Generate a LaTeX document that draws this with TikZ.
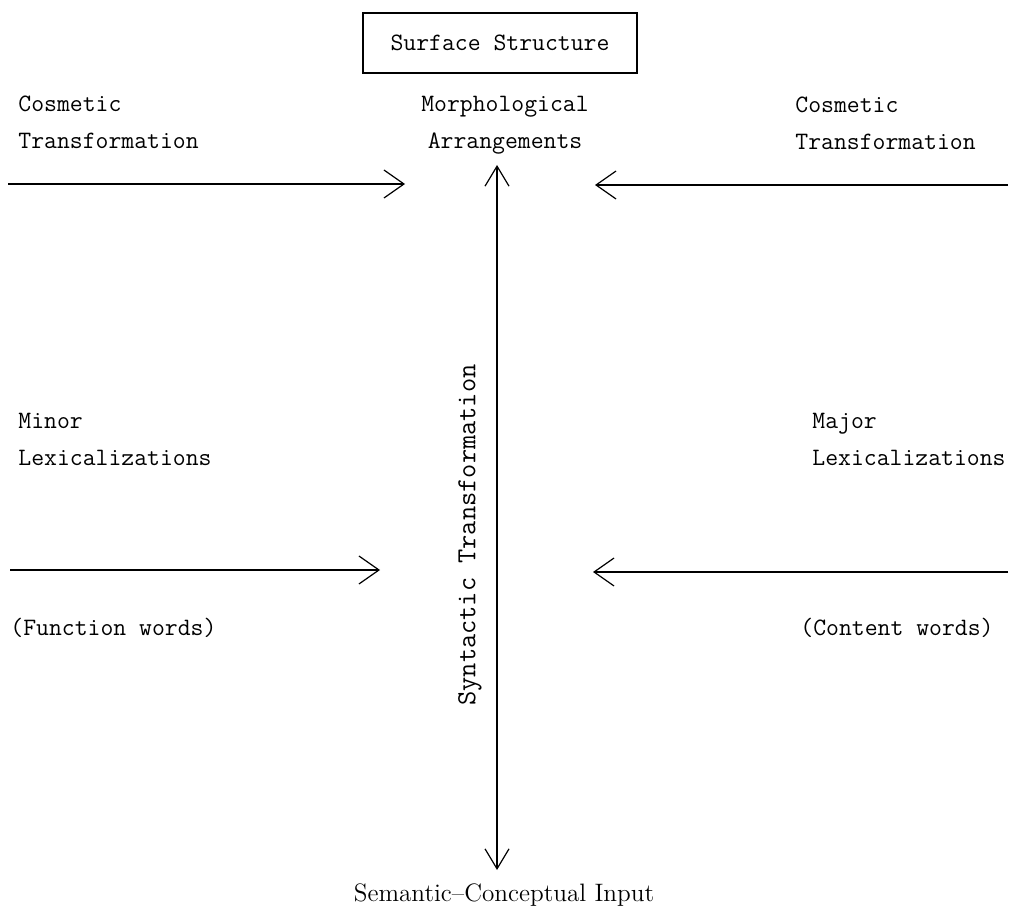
\documentclass[tikz,border=0pt]{standalone}
\usepackage{tikz}
\usetikzlibrary{positioning, arrows.meta}

\tikzset{
    tt/.style={font=\fontsize{12.5}{18.5}\selectfont\ttfamily, inner sep=0pt, align=left},
    arr/.style={-{Straight Barb[length=10pt, width=14pt]}, line width=0.6pt},
    varr/.style={{Straight Barb[length=10pt, width=12pt]}-{Straight Barb[length=10pt, width=12pt]}, line width=0.6pt}
}

\begin{document}
\begin{tikzpicture}[x=0.5pt, y=-0.5pt]
    \useasboundingbox (0,0) rectangle (1010,914);

    % Surface structure en haut
    \node[draw, line width=0.6pt, minimum width=137pt, minimum height=30pt, font=\fontsize{12.5}{14}\selectfont\ttfamily] (surface) at (500,43) {Surface Structure};
    \node[tt, align=center] (morph) at (505,125) {Morphological\\Arrangements};

    % Transformations cosmetiques
    \node[tt, anchor=west] (cosleft) at (18,122) {Cosmetic\\Transformation};
    \node[tt, anchor=west] (cosright) at (795,123) {Cosmetic\\Transformation};
    \coordinate (cosLa) at (8,184);
    \coordinate (cosLb) at (405,184);
    \coordinate (cosRa) at (1008,185);
    \coordinate (cosRb) at (595,185);
    \draw[arr] (cosLa) -- (cosLb);
    \draw[arr] (cosRa) -- (cosRb);

    % Lexicalisations
    \node[tt, anchor=west] (minor) at (18,439) {Minor\\Lexicalizations};
    \node[tt, anchor=west] (major) at (812,439) {Major\\Lexicalizations};
    \coordinate (minA) at (10,570);
    \coordinate (minB) at (380,570);
    \coordinate (majA) at (1008,572);
    \coordinate (majB) at (593,572);
    \draw[arr] (minA) -- (minB);
    \draw[arr] (majA) -- (majB);
    \node[tt, anchor=west] (function) at (10,628) {(Function words)};
    \node[tt, anchor=west] (content) at (800,628) {(Content words)};

    % Transformation syntaxique
    \node[font=\fontsize{12.6}{15}\selectfont\rmfamily] (semantic) at (504,895) {Semantic--Conceptual Input};
    \coordinate (syntop) at (497,165);
    \coordinate (synbot) at (497,870);
    \draw[varr] (synbot) -- (syntop);
    \node[tt, font=\fontsize{13.8}{16}\selectfont\ttfamily, rotate=90] (syntactic) at (470,535) {Syntactic Transformation};
\end{tikzpicture}
\end{document}
